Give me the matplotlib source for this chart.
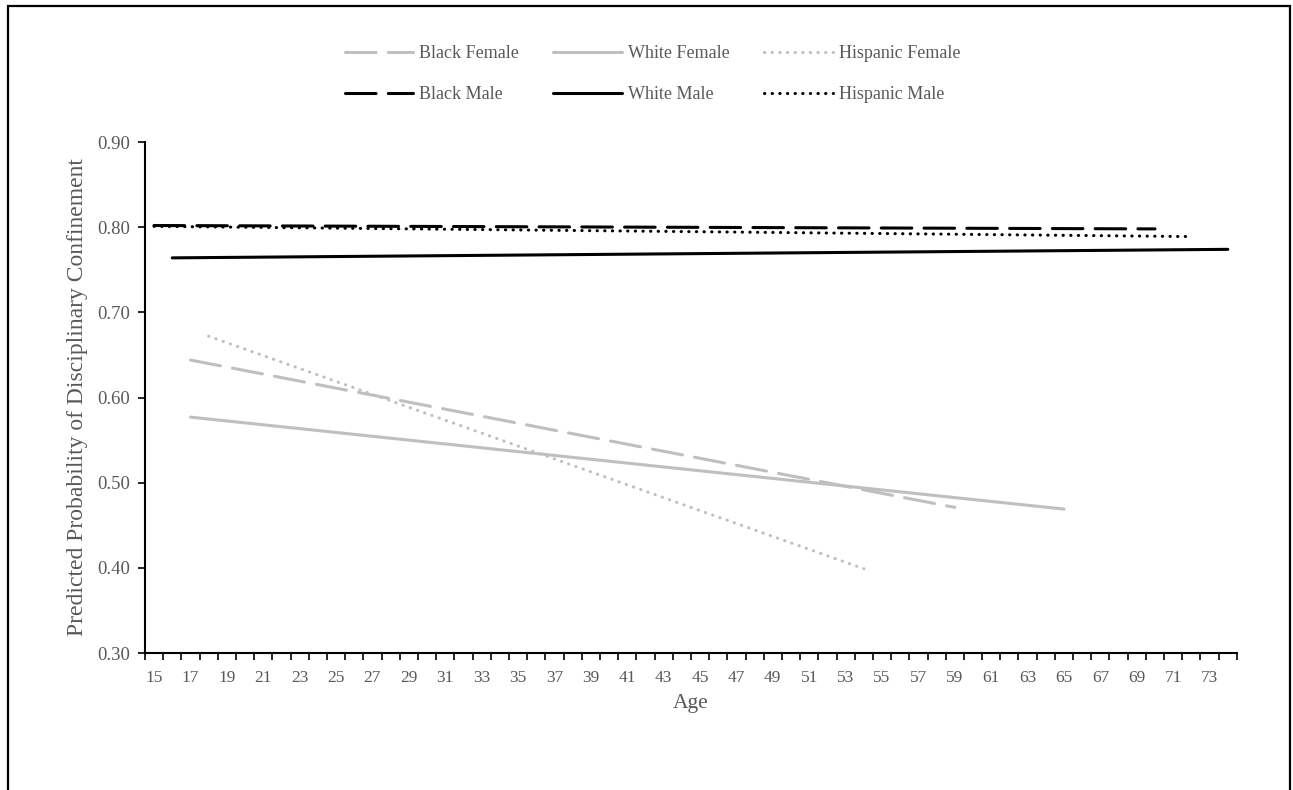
import numpy as np
import matplotlib.pyplot as plt
from matplotlib.patches import Rectangle

plt.rcParams['font.family'] = ['Liberation Serif', 'DejaVu Serif']

# predicted probabilities at the first and last observed age of each group
groups = ["Black Female", "Black Male", "White Female", "White Male",
          "Hispanic Female", "Hispanic Male"]
ages = {
    "Black Female": [17, 59],
    "Black Male": [15, 70],
    "White Female": [17, 65],
    "White Male": [16, 74],
    "Hispanic Female": [18, 54],
    "Hispanic Male": [15, 72],
}
probs = {
    "Black Female": [0.644, 0.471],
    "Black Male": [0.802, 0.798],
    "White Female": [0.577, 0.469],
    "White Male": [0.764, 0.774],
    "Hispanic Female": [0.672, 0.399],
    "Hispanic Male": [0.801, 0.789],
}
age_labels = list(range(15, 75, 2))

GRAY = "#BFBFBF"
TXT = "#595959"
dash = (0, (10, 4))
dot = (0, (0.1, 2.4))
styles = {
    "Black Female": (GRAY, dash),
    "Black Male": ("black", dash),
    "White Female": (GRAY, "-"),
    "White Male": ("black", "-"),
    "Hispanic Female": (GRAY, dot),
    "Hispanic Male": ("black", dot),
}

fig = plt.figure(figsize=(12.93, 7.9), dpi=100)
ax = fig.add_axes([0.1121, 0.1734, 0.8445, 0.6468])

lw = 2.2
for g in ["Black Female", "White Female", "Hispanic Female",
          "White Male", "Hispanic Male", "Black Male"]:
    c, ls = styles[g]
    ax.plot(ages[g], probs[g], color=c, linestyle=ls, lw=lw,
            dash_capstyle="round", solid_capstyle="round", label=g)

ax.set_xlim(14.5, 74.5)
ax.set_ylim(0.30, 0.90)
ax.set_yticks(np.arange(0.30, 0.901, 0.10))
ax.set_yticklabels([f"{v:.2f}" for v in np.arange(0.30, 0.901, 0.10)])
ax.set_xticks(age_labels)
ax.set_xticklabels([str(a) for a in age_labels])
ax.set_xticks(np.arange(14.5, 75, 1), minor=True)
ax.tick_params(axis="x", which="major", length=0, pad=12, labelsize=12.5, labelcolor=TXT)
ax.tick_params(axis="x", which="minor", length=5, width=1.2, direction="out", color="black")
ax.tick_params(axis="y", length=5, width=1.2, direction="out", pad=6, labelsize=13.5, labelcolor=TXT)

for s in ["top", "right"]:
    ax.spines[s].set_visible(False)
for s in ["left", "bottom"]:
    ax.spines[s].set_linewidth(1.5)
    ax.spines[s].set_color("black")

ax.set_xlabel("Age", fontsize=15.5, color=TXT, labelpad=6)
ax.set_ylabel("Predicted Probability of Disciplinary Confinement", fontsize=17, color=TXT, labelpad=6)

handles, labels = ax.get_legend_handles_labels()
lookup = dict(zip(labels, handles))
fig.legend([lookup[g] for g in groups], groups, ncol=3, loc="upper center",
           bbox_to_anchor=(0.5046, 0.9635), frameon=False, fontsize=13,
           handlelength=3.8, handletextpad=0.33, columnspacing=1.9,
           labelspacing=1.35, labelcolor=TXT)

fig.patches.append(Rectangle((0.0062, -0.02), 0.9915, 1.0124, transform=fig.transFigure,
                             fill=False, edgecolor="black", lw=1.6))

fig.savefig("out.png", dpi=100)
